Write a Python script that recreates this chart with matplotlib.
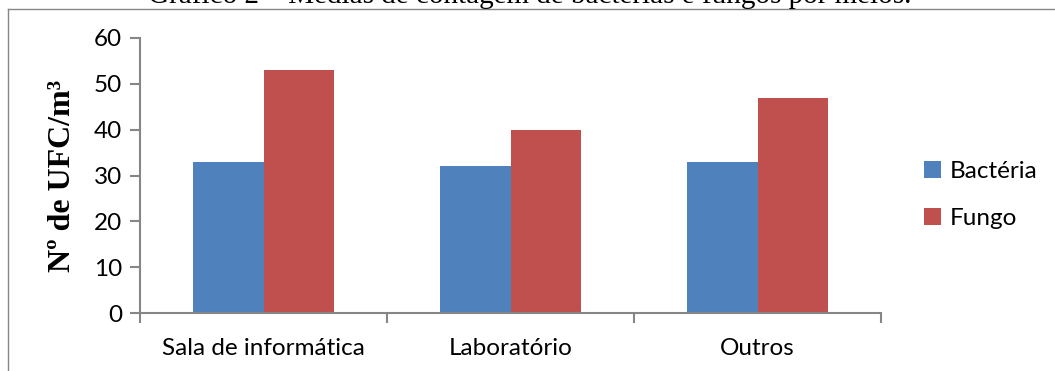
import numpy as np
import matplotlib.pyplot as plt
from matplotlib.lines import Line2D

# Dados
categorias = ['Sala de informática', 'Laboratório', 'Outros']
bacteria = [33, 32, 33]
fungo = [53, 40, 47]
yticks = [0, 10, 20, 30, 40, 50, 60]

W, H = 1055, 371
fig = plt.figure(figsize=(W / 100, H / 100), dpi=100)
ax = fig.add_axes([140 / W, (H - 313) / H, (881 - 140) / W, (313 - 38) / H])

x = np.arange(len(categorias))
bw = 0.286
ax.bar(x - bw / 2, bacteria, bw, color='#4F81BD', label='Bactéria', zorder=2)
ax.bar(x + bw / 2, fungo, bw, color='#C0504D', label='Fungo', zorder=2)

ax.set_xlim(-0.5, 2.5)
ax.set_ylim(0, 60)
ax.set_yticks(yticks)
ax.set_xticks(x)
ax.set_xticklabels(categorias)
ax.set_xticks([-0.5, 0.5, 1.5, 2.5], minor=True)
ax.tick_params(axis='x', which='major', length=0, pad=18)
ax.tick_params(axis='x', which='minor', length=7, width=1.5, color='#868686')
ax.tick_params(axis='y', length=7, width=1.5, color='#868686', pad=6)
for lab in ax.get_xticklabels() + ax.get_yticklabels():
    lab.set_fontfamily('Lato')
    lab.set_fontsize(17.5)

for s in ['top', 'right']:
    ax.spines[s].set_visible(False)
for s in ['left', 'bottom']:
    ax.spines[s].set_color('#868686')
    ax.spines[s].set_linewidth(1.5)

ax.set_ylabel('Nº de UFC/m³', fontfamily='Liberation Serif', fontweight='bold',
              fontsize=23, labelpad=12)

leg = ax.legend(loc='center left', bbox_to_anchor=(902 / W, (H - 195) / H),
                bbox_transform=fig.transFigure, frameon=False,
                prop={'family': 'Lato', 'size': 17.5}, handlelength=0.7,
                handleheight=0.7, handletextpad=0.35, labelspacing=1.1)

# moldura do grafico
fig.add_artist(Line2D([8 / W, 1], [(H - 9) / H, (H - 9) / H], color='#868686', lw=1))
fig.add_artist(Line2D([8 / W, 8 / W], [0, (H - 9) / H], color='#868686', lw=1))

fig.text(530 / W, (H - 3) / H, 'Gráfico 2 – Médias de contagem de bactérias e fungos por meios.',
         ha='center', va='baseline', fontfamily='Liberation Serif', fontsize=21)

fig.savefig('out.png', dpi=100)
